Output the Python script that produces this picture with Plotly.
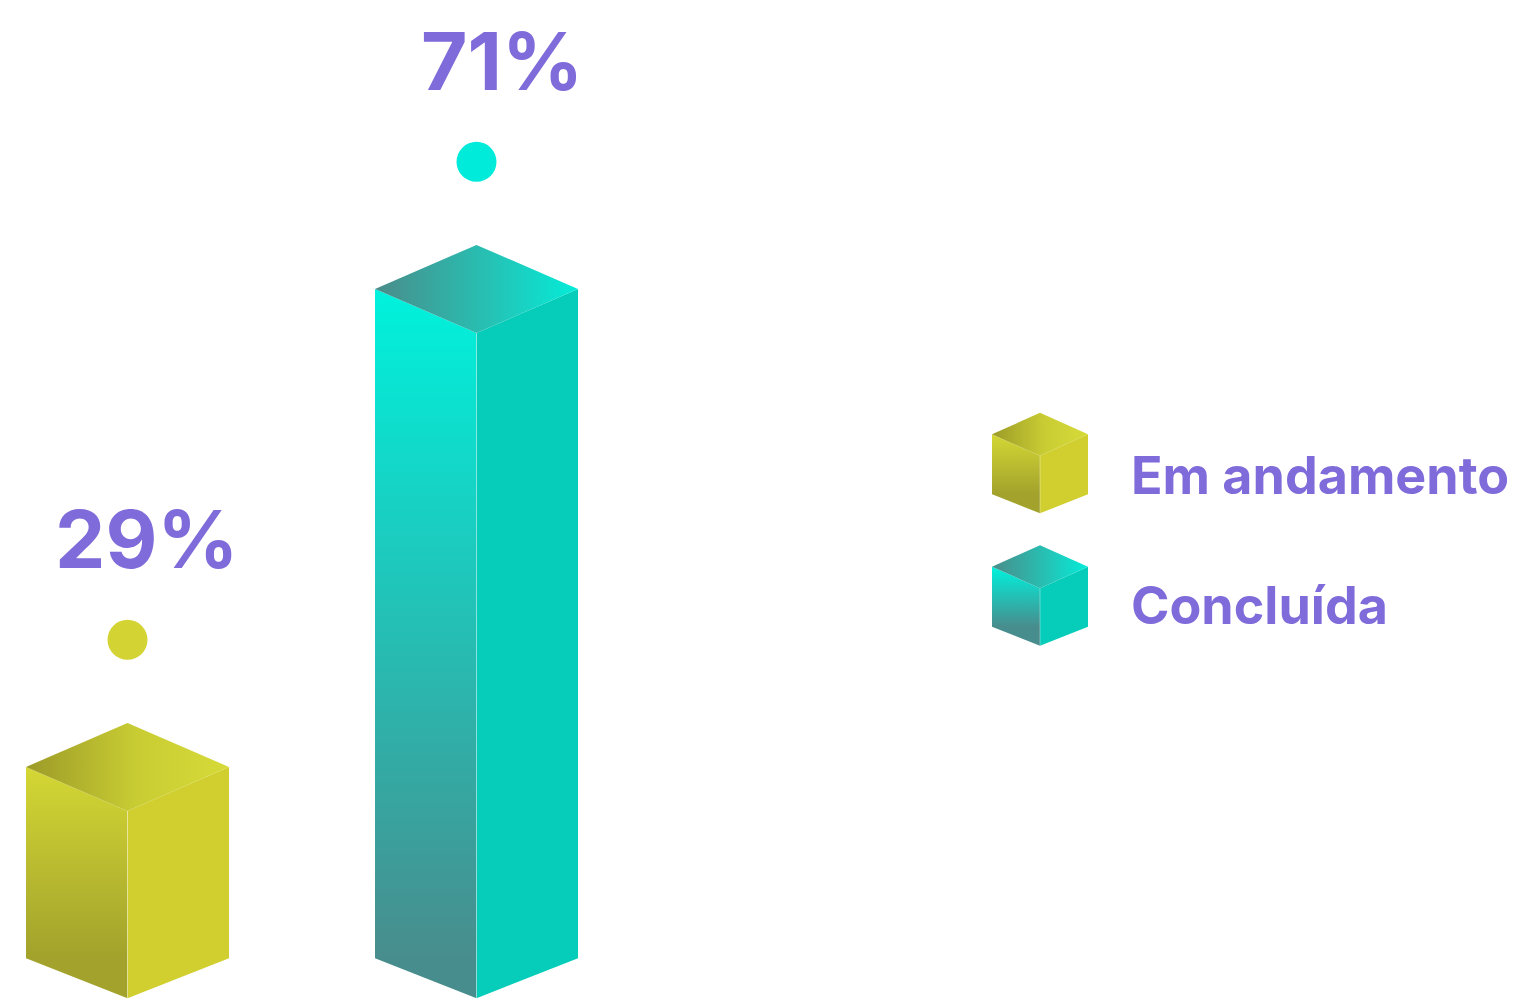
import plotly.graph_objects as go

# Data
categories = ["Em andamento", "Concluída"]
values = [29, 71]
labels = ["29%", "71%"]

# Palette per category: (left-face top, left-face bottom, right face, top-face left, top-face right)
palettes = [
    dict(lt="#D4D734", lb="#A2A22C", right="#D1CE2F", tl="#9C9A28", tm="#C9CD33", tr="#D6DA38", dot="#D3D433"),
    dict(lt="#00F2DD", lb="#488D8D", right="#05CDB9", tl="#4A8C8A", tm="#27C0B3", tr="#04ECD9", dot="#00EBD9"),
]
TEXT_COLOR = "#7F6BD9"
FONT = "Inter"

# Geometry (x in page pixels, y in value units)
W, H = 1519, 1001
centers = [127.5, 476.5]
HALF_W = 101.5
Y_RANGE = [8.435, 96.39]
BASE = 12.2          # value at the bottom of the front-left edge
TOP_DEPTH = 3.87     # isometric rise of the top face
BOTTOM_DEPTH = 3.52  # isometric drop of the bottom edge
DOT_GAP = 7.3

fig = go.Figure()


def face(xs, ys, xa, ya, fillcolor=None, gradient=None):
    kw = dict(x=xs + [xs[0]], y=ys + [ys[0]], mode="lines", fill="toself",
              line=dict(width=0, color="rgba(0,0,0,0)"), hoverinfo="skip",
              showlegend=False, xaxis=xa, yaxis=ya)
    if gradient:
        kw["fillgradient"] = gradient
        kw["fillcolor"] = "rgba(0,0,0,0)"
    else:
        kw["fillcolor"] = fillcolor
    fig.add_trace(go.Scatter(**kw))


def prism(cx, hw, top, base, dt, db, pal, xa, ya, sign=1):
    # sign=+1 for upward y axis, -1 for reversed (pixel) axis
    left_x = cx - hw
    right_x = cx + hw
    front_top = top - sign * dt
    front_bot = base - sign * db
    # left face
    face([left_x, cx, cx, left_x], [top, front_top, front_bot, base], xa, ya,
         gradient=dict(type="vertical",
                       colorscale=[[0, pal["lb"]], [1, pal["lt"]]] if sign > 0 else [[0, pal["lt"]], [1, pal["lb"]]],
                       start=min(base, top) if sign > 0 else top,
                       stop=max(base, top) if sign > 0 else base))
    # right face
    face([cx, right_x, right_x, cx], [front_top, top, base, front_bot], xa, ya,
         fillcolor=pal["right"])
    # top face
    face([left_x, cx, right_x, cx], [top, top + sign * dt, top, front_top], xa, ya,
         gradient=dict(type="horizontal",
                       colorscale=[[0, pal["tl"]], [0.55, pal["tm"]], [1, pal["tr"]]],
                       start=left_x, stop=right_x))
    # faint highlight on the front edge
    fig.add_trace(go.Scatter(x=[cx, cx], y=[front_top, front_bot], mode="lines",
                             line=dict(width=1, color="rgba(255,255,255,0.35)"),
                             hoverinfo="skip", showlegend=False, xaxis=xa, yaxis=ya))


# Bars
for cx, v, pal in zip(centers, values, palettes):
    prism(cx, HALF_W, v, BASE, TOP_DEPTH, BOTTOM_DEPTH, pal, "x", "y")

# Dots above each bar
fig.add_trace(go.Scatter(
    x=centers, y=[v + TOP_DEPTH + DOT_GAP for v in values], mode="markers",
    marker=dict(size=40, color=[p["dot"] for p in palettes], line=dict(width=0)),
    hoverinfo="skip", showlegend=False))

# Percentage labels
for cx, v, lab, xs in zip(centers, values, labels, [19, 25]):
    fig.add_annotation(x=cx, y=v + TOP_DEPTH + DOT_GAP, text=f"<b>{lab}</b>",
                       showarrow=False, xanchor="center", yanchor="middle",
                       xshift=xs, yshift=101,
                       font=dict(family=FONT, size=80, color=TEXT_COLOR))

# Legend: cube icons (pixel axes) and names
legend_tops = [434.3, 566.7]
legend_text_y = [475.5, 605]
for ty, tyt, name, pal in zip(legend_tops, legend_text_y, categories, palettes):
    prism(1040, 48, ty, ty + 60, 21.5, 19, pal, "x2", "y2", sign=-1)
    fig.add_annotation(x=1129, y=tyt, xref="x2", yref="y2", text=f"<b>{name}</b>",
                       showarrow=False, xanchor="left", yanchor="middle",
                       font=dict(family=FONT, size=52, color=TEXT_COLOR))

axis_common = dict(visible=False, showgrid=False, zeroline=False, fixedrange=True)
fig.update_layout(
    width=W, height=H, margin=dict(l=0, r=0, t=0, b=0),
    paper_bgcolor="white", plot_bgcolor="white",
    xaxis=dict(range=[0, W], **axis_common),
    yaxis=dict(range=Y_RANGE, **axis_common),
    xaxis2=dict(range=[0, W], overlaying="x", **axis_common),
    yaxis2=dict(range=[H, 0], overlaying="y", **axis_common),
    showlegend=False,
)

fig.write_html("out.html", config={"displayModeBar": False},
               post_script="document.body.style.margin='0';")
